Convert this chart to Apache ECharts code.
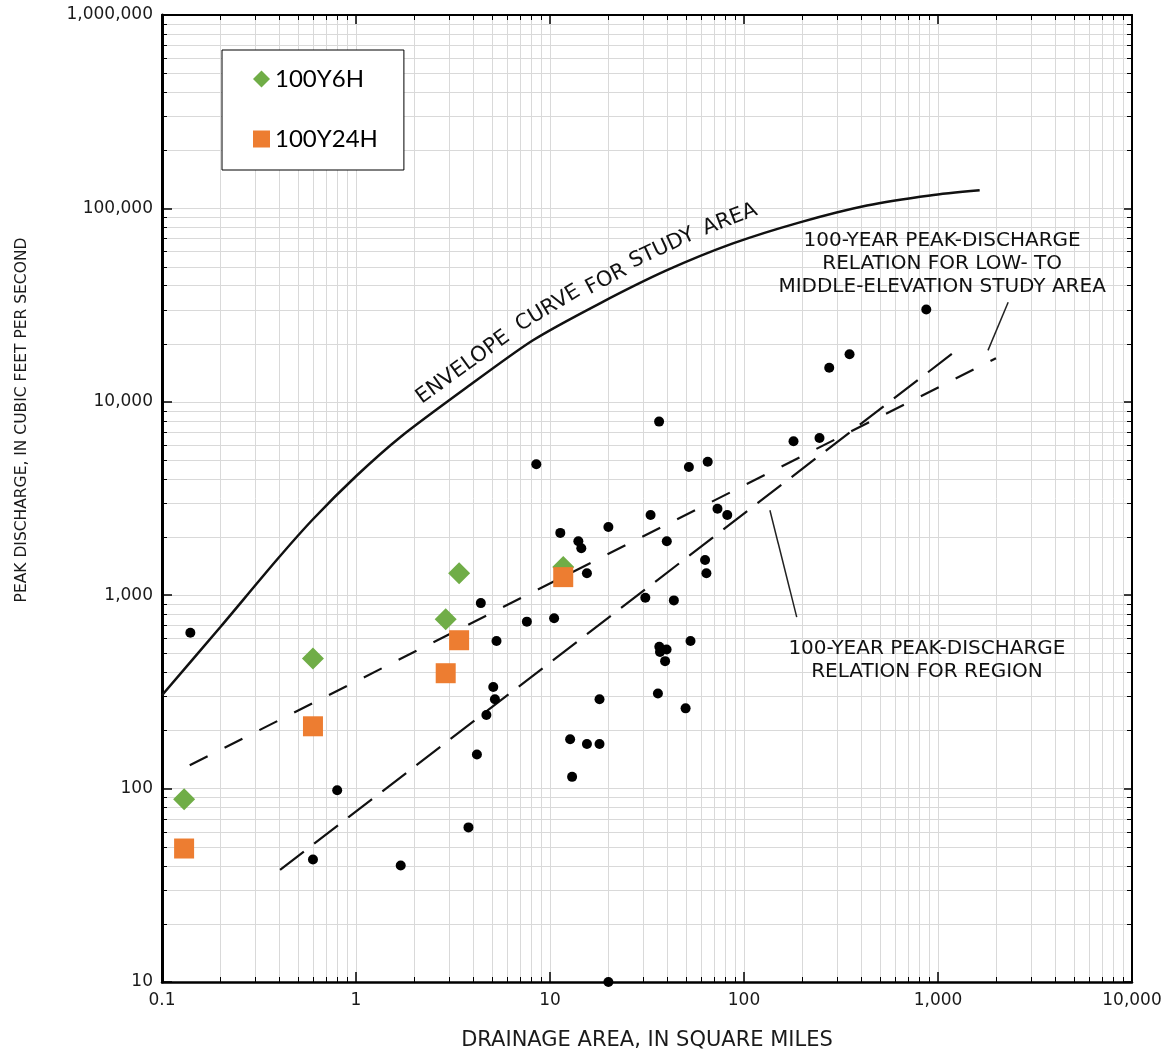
<!DOCTYPE html>
<html>
<head>
<meta charset="utf-8">
<title>Peak discharge vs drainage area</title>
<script src="https://cdn.jsdelivr.net/npm/echarts@6/dist/echarts.min.js"></script>
<style>
  html, body { margin: 0; padding: 0; background: #fff; }
  #chart { width: 1166px; height: 1055px; }
</style>
</head>
<body>
<div id="chart"></div>
<script>
// axis ticks
const xTickValues = [0.1, 1, 10, 100, 1000, 10000]
const xTickLabels = ["0.1", "1", "10", "100", "1,000", "10,000"]
const yTickValues = [10, 100, 1000, 10000, 100000, 1000000]
const yTickLabels = ["10", "100", "1,000", "10,000", "100,000", "1,000,000"]
const minorSteps = [2, 3, 4, 5, 6, 7, 8, 9]

// gaged sites (black dots)
const stationArea = [0.14, 0.8, 0.6, 1.7, 3.8, 4.2, 4.7, 5.1, 5.2, 12.7,
  13, 15.5, 18, 18, 20, 8.5, 4.4, 5.3, 7.6, 10.5,
  11.3, 14, 14.5, 15.5, 20, 36.5, 52, 65, 180, 245,
  33, 73, 82, 40, 63, 64, 31, 43.5, 53, 36.6,
  39.9, 36.9, 39.2, 36, 50, 870, 350, 275]
const stationPeak = [640, 98, 43, 40, 63, 150, 240, 335, 290, 180,
  115, 170, 170, 290, 10, 4750, 910, 580, 730, 760,
  2100, 1900, 1750, 1300, 2250, 7900, 4600, 4900, 6250, 6500,
  2600, 2800, 2600, 1900, 1520, 1300, 970, 940, 580, 541,
  524, 509, 456, 310, 260, 30000, 17600, 15000]

// 100-year, 6-hour storm
const y6hArea = [0.13, 0.6, 2.9, 3.4, 11.7]
const y6hPeak = [88, 470, 750, 1300, 1400]
// 100-year, 24-hour storm
const y24hArea = [0.13, 0.6, 2.9, 3.4, 11.7]
const y24hPeak = [49, 210, 395, 585, 1240]

// envelope curve
const envelopeArea = [0.1, 0.2, 0.39, 0.6, 1, 1.69, 3.73, 8.17, 18.1, 40.1, 87.7, 194, 430, 910, 1640]
const envelopePeak = [304, 685, 1520, 2470, 4120, 6560, 11880, 20800, 32300, 47900, 65900, 84700, 103500, 116700, 124000]

// relation lines (end points)
const lowMidArea = [0.139, 1990]
const lowMidPeak = [132, 16800]
const regionArea = [0.406, 1268]
const regionPeak = [38, 18700]

// leader lines for the notes
const regionLeaderArea = [136, 187]
const regionLeaderPeak = [2750, 770]
const lowMidLeaderArea = [2300, 1810]
const lowMidLeaderPeak = [32700, 18450]

// minor grid values 2..9 per decade
const xMinor = []
xTickValues.slice(0, -1).forEach(d => minorSteps.forEach(m => xMinor.push(Number((d * m).toPrecision(6)))))
const yMinor = []
yTickValues.slice(0, -1).forEach(d => minorSteps.forEach(m => yMinor.push(Number((d * m).toPrecision(6)))))

const zip = (a, b) => a.map((v, i) => [v, b[i]])
const tickLabel = (values, labels) => v => {
  const i = values.findIndex(t => Math.abs(Math.log10(t) - Math.log10(v)) < 1e-6)
  return i >= 0 ? labels[i] : ""
}

const FONT = "DejaVu Sans"
const GRID_COLOR = "#d9d9d9"

const chart = echarts.init(document.getElementById("chart"))

const minorGrid = (vertical) => ({
  type: "custom",
  silent: true,
  z: 1,
  data: vertical ? xMinor.map(v => [v, yTickValues[0]]) : yMinor.map(v => [xTickValues[0], v]),
  renderItem: (params, api) => {
    const cs = params.coordSys
    const p = api.coord([api.value(0), api.value(1)])
    if (vertical) {
      const x = Math.round(p[0]) + 0.5
      const b = cs.y + cs.height
      return { type: "group", children: [
        { type: "line", shape: { x1: x, y1: cs.y, x2: x, y2: b }, style: { stroke: GRID_COLOR, lineWidth: 1 } },
        { type: "line", shape: { x1: x, y1: b, x2: x, y2: b - 5 }, style: { stroke: "#000", lineWidth: 1 } },
        { type: "line", shape: { x1: x, y1: cs.y, x2: x, y2: cs.y + 5 }, style: { stroke: "#000", lineWidth: 1 } }
      ] }
    }
    const y = Math.round(p[1]) + 0.5
    const r = cs.x + cs.width
    return { type: "group", children: [
      { type: "line", shape: { x1: cs.x, y1: y, x2: r, y2: y }, style: { stroke: GRID_COLOR, lineWidth: 1 } },
      { type: "line", shape: { x1: cs.x, y1: y, x2: cs.x + 5, y2: y }, style: { stroke: "#000", lineWidth: 1 } },
      { type: "line", shape: { x1: r, y1: y, x2: r - 5, y2: y }, style: { stroke: "#000", lineWidth: 1 } }
    ] }
  }
})

const frameAxis = {
  axisLine: { show: true, onZero: false, lineStyle: { color: "#000", width: 2 } },
  axisTick: { show: true, inside: true, length: 9, lineStyle: { color: "#000", width: 1.5 } },
  axisLabel: { show: false },
  splitLine: { show: false }
}

const option = {
  animation: false,
  backgroundColor: "#fff",
  grid: { left: 162, right: 34, top: 15, bottom: 73, containLabel: false, outerBoundsMode: "none" },
  legend: {
    data: ["100Y6H", "100Y24H"],
    orient: "vertical",
    left: 222,
    top: 50,
    padding: [17, 26, 19, 31],
    itemGap: 36,
    itemWidth: 17,
    itemHeight: 17,
    backgroundColor: "#fff",
    borderColor: "#000",
    borderWidth: 1,
    borderRadius: 0,
    textStyle: { fontFamily: "Lato", fontSize: 24, color: "#000" }
  },
  xAxis: [
    {
      type: "log", logBase: 10, min: 0.1, max: 10000, position: "bottom",
      axisLine: { show: true, onZero: false, lineStyle: { color: "#000", width: 2.5 } },
      axisTick: { show: true, inside: true, length: 10, lineStyle: { color: "#000", width: 1.5 } },
      axisLabel: { formatter: tickLabel(xTickValues, xTickLabels), margin: 10, fontSize: 17, color: "#1a1a1a", fontFamily: FONT },
      splitLine: { show: true, lineStyle: { color: GRID_COLOR, width: 1 } },
      name: "DRAINAGE AREA, IN SQUARE MILES",
      nameLocation: "middle",
      nameGap: 48,
      nameTextStyle: { fontSize: 21, color: "#1a1a1a", fontFamily: FONT }
    },
    Object.assign({ type: "log", logBase: 10, min: 0.1, max: 10000, position: "top" }, frameAxis)
  ],
  yAxis: [
    {
      type: "log", logBase: 10, min: 10, max: 1000000, position: "left",
      axisLine: { show: true, onZero: false, lineStyle: { color: "#000", width: 3 } },
      axisTick: { show: true, inside: true, length: 10, lineStyle: { color: "#000", width: 1.5 } },
      axisLabel: { formatter: tickLabel(yTickValues, yTickLabels), margin: 9, fontSize: 17, color: "#1a1a1a", fontFamily: FONT },
      splitLine: { show: true, lineStyle: { color: GRID_COLOR, width: 1 } }
    },
    Object.assign({ type: "log", logBase: 10, min: 10, max: 1000000, position: "right" }, frameAxis)
  ],
  series: [
    minorGrid(true),
    minorGrid(false),
    {
      name: "Envelope", type: "line", smooth: 0.25, symbol: "none", z: 3, silent: true,
      lineStyle: { color: "#111", width: 2.5 },
      data: zip(envelopeArea, envelopePeak)
    },
    {
      name: "Low-middle", type: "line", symbol: "none", z: 3, silent: true,
      lineStyle: { color: "#111", width: 2.2, type: [20, 19] },
      data: zip(lowMidArea, lowMidPeak)
    },
    {
      name: "Region", type: "line", symbol: "none", z: 3, silent: true,
      lineStyle: { color: "#111", width: 2.2, type: [30, 13] },
      data: zip(regionArea, regionPeak)
    },
    {
      name: "Region note", type: "line", symbol: "none", z: 3, silent: true,
      lineStyle: { color: "#222", width: 1.5 },
      data: zip(regionLeaderArea, regionLeaderPeak)
    },
    {
      name: "Low-middle note", type: "line", symbol: "none", z: 3, silent: true,
      lineStyle: { color: "#222", width: 1.5 },
      data: zip(lowMidLeaderArea, lowMidLeaderPeak)
    },
    {
      name: "Sites", type: "scatter", symbol: "circle", symbolSize: 10, z: 4,
      itemStyle: { color: "#000", opacity: 1 },
      data: zip(stationArea, stationPeak)
    },
    {
      name: "100Y6H", type: "scatter", symbol: "diamond", symbolSize: 22, z: 5,
      itemStyle: { color: "#70AD47", opacity: 1 },
      data: zip(y6hArea, y6hPeak)
    },
    {
      name: "100Y24H", type: "scatter", symbol: "rect", symbolSize: 20, z: 6,
      itemStyle: { color: "#ED7D31", opacity: 1 },
      data: zip(y24hArea, y24hPeak)
    }
  ]
}

chart.setOption(option)

// notes placed at data coordinates
const envelopeWords = [
  { text: "ENVELOPE", at: [3.56, 15070], angle: 36 },
  { text: "CURVE", at: [9.77, 30400], angle: 31 },
  { text: "FOR", at: [19.5, 42900], angle: 28 },
  { text: "STUDY", at: [37.8, 62100], angle: 25 },
  { text: "AREA", at: [84.7, 87700], angle: 21 }
]
const notes = [
  { text: "100-YEAR PEAK-DISCHARGE\nRELATION FOR LOW- TO\nMIDDLE-ELEVATION STUDY AREA", at: [1050, 52000] },
  { text: "100-YEAR PEAK-DISCHARGE\nRELATION FOR REGION", at: [877, 461] }
]

const toPx = v => chart.convertToPixel({ xAxisIndex: 0, yAxisIndex: 0 }, v)
const graphics = []
envelopeWords.forEach(w => {
  const p = toPx(w.at)
  graphics.push({
    type: "text", x: p[0], y: p[1], rotation: w.angle * Math.PI / 180, z: 10, silent: true,
    style: { text: w.text, fontFamily: FONT, fontSize: 21, fill: "#111", align: "center", verticalAlign: "middle" }
  })
})
notes.forEach(n => {
  const p = toPx(n.at)
  graphics.push({
    type: "text", x: p[0], y: p[1], z: 10, silent: true,
    style: { text: n.text, fontFamily: FONT, fontSize: 20, lineHeight: 23, fill: "#111", align: "center", verticalAlign: "middle" }
  })
})
graphics.push({
  type: "text", x: 22, y: 420, rotation: Math.PI / 2, silent: true,
  style: { text: "PEAK DISCHARGE, IN CUBIC FEET PER SECOND", fontFamily: FONT, fontSize: 15.5, fill: "#1a1a1a", align: "center", verticalAlign: "middle" }
})
chart.setOption({ graphic: graphics })

window.addEventListener("resize", () => chart.resize())
</script>
</body>
</html>
